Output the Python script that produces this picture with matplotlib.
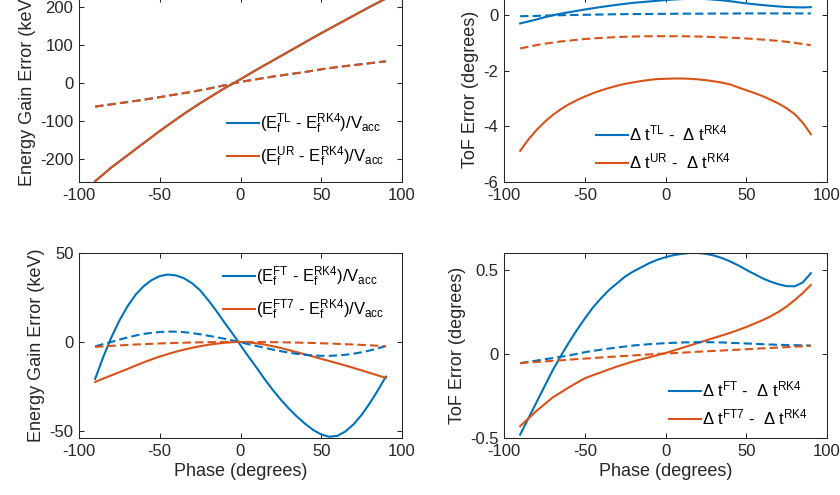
import numpy as np
import matplotlib
matplotlib.use("Agg")
import matplotlib.pyplot as plt
from matplotlib.ticker import FormatStrFormatter

plt.rcParams["font.family"] = ["Liberation Sans", "DejaVu Sans"]
plt.rcParams["mathtext.default"] = "regular"
plt.rcParams["axes.unicode_minus"] = False

BLUE = "#0072BD"
ORANGE = "#D95319"
AXC = "#262626"

# phase grid (degrees), rows of 10
phase = [-90, -85, -80, -75, -70, -65, -60, -55, -50, -45,
         -40, -35, -30, -25, -20, -15, -10, -5, 0, 5,
         10, 15, 20, 25, 30, 35, 40, 45, 50, 55,
         60, 65, 70, 75, 80, 85, 90]

# top left: energy gain error, TL vs UR (keV)
e_tl = [-258, -240, -222, -206, -190, -174, -158, -142, -126, -111,
        -96, -81, -67, -53, -40, -27, -14, -2, 10, 22.5,
        35, 47, 59, 71, 83, 95, 107, 119, 131, 142.5,
        154, 165.5, 177, 188.5, 200, 211, 222]
e_ur = [-258, -240, -222, -206, -190, -174, -158, -142, -126, -111,
        -96, -81, -67, -53, -40, -27, -14, -2, 10, 22.5,
        35, 47, 59, 71, 83, 95, 107, 119, 131, 142.5,
        154, 165.5, 177, 188.5, 200, 211, 222]
e_tl_d = [-62, -59, -56, -53, -50, -47, -44, -40.5, -37, -33.5,
          -30, -26.5, -23, -19, -15, -10.5, -6, -1.5, 3, 6.5,
          10, 13.5, 17, 20, 23, 26, 29, 32.5, 36, 39,
          42, 44.5, 47, 49.5, 52, 54.5, 57]
e_ur_d = [-62, -59, -56, -53, -50, -47, -44, -40.5, -37, -33.5,
          -30, -26.5, -23, -19, -15, -10.5, -6, -1.5, 3, 6.5,
          10, 13.5, 17, 20, 23, 26, 29, 32.5, 36, 39,
          42, 44.5, 47, 49.5, 52, 54.5, 57]

# top right: ToF error, TL vs UR (degrees)
t_tl = [-0.30, -0.23, -0.16, -0.08, -0.01, 0.05, 0.10, 0.15, 0.20, 0.245,
        0.29, 0.33, 0.37, 0.405, 0.44, 0.465, 0.49, 0.515, 0.54, 0.56,
        0.575, 0.585, 0.585, 0.575, 0.555, 0.53, 0.50, 0.46, 0.42, 0.39,
        0.36, 0.335, 0.31, 0.29, 0.28, 0.275, 0.285]
t_ur = [-4.88, -4.48, -4.14, -3.85, -3.60, -3.39, -3.21, -3.06, -2.93, -2.81,
        -2.71, -2.62, -2.54, -2.47, -2.42, -2.37, -2.33, -2.30, -2.29, -2.28,
        -2.28, -2.29, -2.31, -2.34, -2.38, -2.43, -2.49, -2.60, -2.70, -2.80,
        -2.91, -3.04, -3.18, -3.35, -3.56, -3.87, -4.28]
t_tl_d = [-0.04, -0.035, -0.03, -0.02, -0.01, -0.005, 0.0, 0.005, 0.01, 0.015,
          0.02, 0.025, 0.03, 0.033, 0.035, 0.038, 0.04, 0.043, 0.045, 0.048,
          0.05, 0.05, 0.05, 0.053, 0.055, 0.055, 0.055, 0.058, 0.06, 0.06,
          0.06, 0.06, 0.06, 0.06, 0.06, 0.06, 0.06]
t_ur_d = [-1.20, -1.14, -1.08, -1.03, -0.99, -0.95, -0.92, -0.89, -0.86, -0.84,
          -0.82, -0.805, -0.79, -0.78, -0.77, -0.765, -0.76, -0.76, -0.76, -0.76,
          -0.76, -0.765, -0.77, -0.78, -0.79, -0.80, -0.81, -0.825, -0.84, -0.86,
          -0.88, -0.905, -0.93, -0.96, -1.00, -1.04, -1.08]

# bottom left: energy gain error, FT vs FT7 (keV)
e_ft = [-20.8, -8.5, 2.5, 12.0, 20.0, 26.5, 31.3, 34.8, 37.0, 37.9,
        37.4, 35.8, 33.0, 29.0, 23.5, 17.5, 11.0, 4.8, -1.8, -8.3,
        -14.5, -21.0, -27.0, -32.5, -37.5, -42.0, -46.0, -49.5, -52.0, -53.3,
        -52.8, -50.3, -46.3, -41.0, -34.5, -27.3, -19.5]
e_ft7 = [-22.5, -20.6, -18.8, -17.0, -15.2, -13.3, -11.5, -9.8, -8.2, -6.8,
         -5.5, -4.3, -3.3, -2.4, -1.6, -1.0, -0.5, -0.15, 0.0, -0.3,
         -0.8, -1.5, -2.4, -3.4, -4.6, -5.8, -7.0, -8.2, -9.5, -10.7,
         -12.0, -13.3, -14.6, -16.0, -17.4, -18.8, -20.2]
e_ft_d = [-2.5, -1.2, 0.0, 1.3, 2.5, 3.6, 4.5, 5.1, 5.6, 5.8,
          5.8, 5.5, 5.0, 4.3, 3.5, 2.7, 1.8, 0.8, -0.2, -1.3,
          -2.3, -3.3, -4.3, -5.2, -6.0, -6.7, -7.2, -7.6, -7.8, -7.8,
          -7.6, -7.2, -6.6, -5.8, -4.8, -3.6, -2.3]
e_ft7_d = [-2.8, -2.5, -2.2, -1.95, -1.7, -1.45, -1.25, -1.05, -0.86, -0.7,
           -0.55, -0.42, -0.31, -0.22, -0.14, -0.08, -0.03, -0.01, 0.0, -0.01,
           -0.03, -0.07, -0.12, -0.19, -0.27, -0.36, -0.47, -0.6, -0.74, -0.9,
           -1.07, -1.25, -1.45, -1.67, -1.9, -2.14, -2.4]

# bottom right: ToF error, FT vs FT7 (degrees)
t_ft = [-0.48, -0.385, -0.29, -0.195, -0.10, -0.015, 0.065, 0.14, 0.21, 0.275,
        0.33, 0.38, 0.42, 0.46, 0.49, 0.515, 0.54, 0.56, 0.575, 0.587,
        0.595, 0.60, 0.60, 0.595, 0.585, 0.57, 0.55, 0.527, 0.50, 0.475,
        0.45, 0.43, 0.414, 0.403, 0.402, 0.425, 0.48]
t_ft7 = [-0.43, -0.385, -0.34, -0.30, -0.26, -0.23, -0.20, -0.172, -0.145, -0.127,
         -0.11, -0.092, -0.075, -0.06, -0.045, -0.032, -0.02, -0.007, 0.005, 0.02,
         0.035, 0.05, 0.065, 0.08, 0.095, 0.11, 0.125, 0.142, 0.16, 0.18,
         0.20, 0.223, 0.25, 0.282, 0.32, 0.362, 0.41]
t_ft_d = [-0.055, -0.047, -0.04, -0.032, -0.025, -0.017, -0.01, 0.0, 0.01, 0.018,
          0.025, 0.032, 0.038, 0.044, 0.05, 0.054, 0.058, 0.061, 0.064, 0.066,
          0.068, 0.069, 0.07, 0.07, 0.069, 0.068, 0.066, 0.064, 0.062, 0.06,
          0.058, 0.056, 0.054, 0.053, 0.052, 0.051, 0.05]
t_ft7_d = [-0.055, -0.051, -0.048, -0.045, -0.041, -0.038, -0.035, -0.031, -0.028, -0.025,
           -0.021, -0.018, -0.015, -0.012, -0.009, -0.006, -0.003, 0.0, 0.002, 0.005,
           0.007, 0.01, 0.013, 0.015, 0.018, 0.02, 0.023, 0.025, 0.028, 0.03,
           0.033, 0.035, 0.038, 0.04, 0.043, 0.045, 0.048]

lab_e_top = [r"$(E_f^{TL}$ - $E_f^{RK4})/V_{acc}$", r"$(E_f^{UR}$ - $E_f^{RK4})/V_{acc}$"]
lab_t_top = [r"$\Delta$ $t^{TL}$ -  $\Delta$ $t^{RK4}$", r"$\Delta$ $t^{UR}$ -  $\Delta$ $t^{RK4}$"]
lab_e_bot = [r"$(E_f^{FT}$ - $E_f^{RK4})/V_{acc}$", r"$(E_f^{FT7}$ - $E_f^{RK4})/V_{acc}$"]
lab_t_bot = [r"$\Delta$ $t^{FT}$ -  $\Delta$ $t^{RK4}$", r"$\Delta$ $t^{FT7}$ -  $\Delta$ $t^{RK4}$"]


def panel(ax, solid_a, solid_b, dash_a, dash_b, labels, ylim, yticks, ylabel,
          leg_anchor, xlabel=None):
    h1, = ax.plot(phase, solid_a, color=BLUE, lw=1.5)
    h2, = ax.plot(phase, solid_b, color=ORANGE, lw=1.5)
    ax.plot(phase, dash_a, color=BLUE, lw=1.5, dashes=(4, 2))
    ax.plot(phase, dash_b, color=ORANGE, lw=1.5, dashes=(4, 2))

    ax.set_xlim(-100, 100)
    ax.set_xticks([-100, -50, 0, 50, 100])
    ax.set_ylim(*ylim)
    ax.set_yticks(yticks)
    ax.yaxis.set_major_formatter(FormatStrFormatter("%g"))
    ax.set_ylabel(ylabel, fontsize=13, color=AXC, labelpad=3)
    if xlabel:
        ax.set_xlabel(xlabel, fontsize=13, color=AXC, labelpad=3)

    for s in ax.spines.values():
        s.set_color(AXC)
        s.set_linewidth(0.75)
    ax.tick_params(direction="in", length=3.5, width=0.75, color=AXC,
                   labelcolor=AXC, labelsize=12, top=True, right=True, pad=4)

    ax.legend([h1, h2], labels, loc="center left", bbox_to_anchor=leg_anchor,
              frameon=False, fontsize=12, handlelength=1.9, handletextpad=0.1,
              borderpad=0, borderaxespad=0, labelspacing=0.5)


fig = plt.figure(figsize=(8.4, 4.95), dpi=100)
W, H = 840.0, 495.0
aw, ah = 323 / W, 185 / H
ax1 = fig.add_axes([79 / W, (H - 182) / H, aw, ah])
ax2 = fig.add_axes([504 / W, (H - 182) / H, aw, ah])
ax3 = fig.add_axes([79 / W, (H - 438) / H, aw, ah])
ax4 = fig.add_axes([504 / W, (H - 438) / H, aw, ah])

panel(ax1, e_tl, e_ur, e_tl_d, e_ur_d, lab_e_top, (-260, 226),
      [-200, -100, 0, 100, 200], "Energy Gain Error (keV)", (0.458, 0.227))
panel(ax2, t_tl, t_ur, t_tl_d, t_ur_d, lab_t_top, (-6, 0.65),
      [-6, -4, -2, 0], "ToF Error (degrees)", (0.285, 0.186))
panel(ax3, e_ft, e_ft7, e_ft_d, e_ft7_d, lab_e_bot, (-54, 50),
      [-50, 0, 50], "Energy Gain Error (keV)", (0.446, 0.781),
      xlabel="Phase (degrees)")
panel(ax4, t_ft, t_ft7, t_ft_d, t_ft7_d, lab_t_bot, (-0.5, 0.6),
      [-0.5, 0, 0.5], "ToF Error (degrees)", (0.511, 0.186),
      xlabel="Phase (degrees)")

fig.savefig("out.png", dpi=100)
